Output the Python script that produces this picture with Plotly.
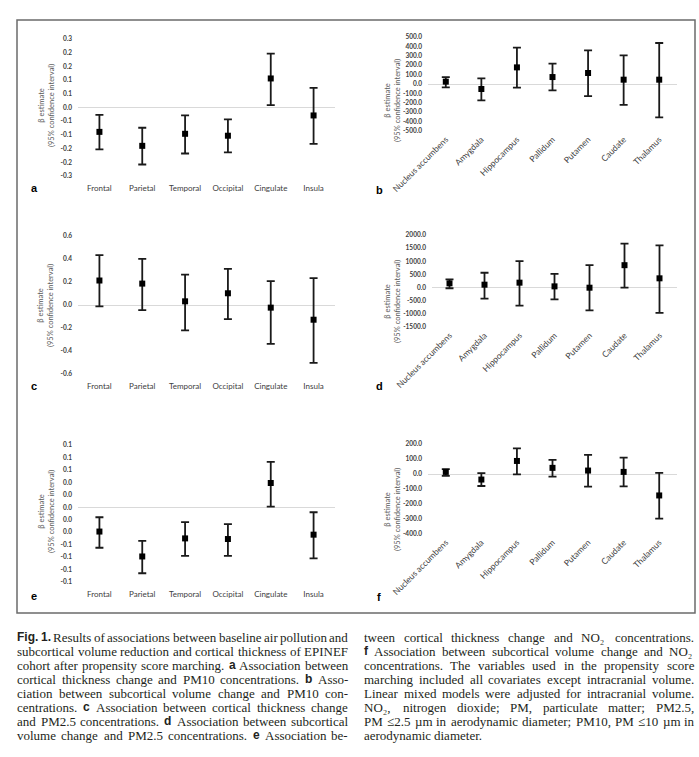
import plotly.graph_objects as go

W, H = 699, 757

# ---------------- data ----------------
cortical_regions = ["Frontal", "Parietal", "Temporal", "Occipital", "Cingulate", "Insula"]
subcortical_regions = ["Nucleus accumbens", "Amygdala", "Hippocampus", "Pallidum",
                       "Putamen", "Caudate", "Thalamus"]

# a: cortical thickness change vs PM10
a_est = [-0.089, -0.140, -0.096, -0.103, 0.106, -0.029]
a_lo = [-0.153, -0.208, -0.168, -0.164, 0.009, -0.133]
a_hi = [-0.027, -0.074, -0.029, -0.043, 0.197, 0.072]
a_tickvals = [0.25, 0.20, 0.15, 0.10, 0.05, 0.0, -0.05, -0.10, -0.15, -0.20, -0.25]
a_ticktext = ["0.3", "0.2", "0.2", "0.1", "0.1", "0.0", "-0.1", "-0.1", "-0.2", "-0.2", "-0.3"]

# b: subcortical volume change vs PM10
b_est = [25, -53, 177, 74, 117, 46, 46]
b_lo = [-35, -174, -39, -67, -128, -223, -355]
b_hi = [74, 60, 387, 216, 358, 305, 436]
b_tickvals = [500, 400, 300, 200, 100, 0, -100, -200, -300, -400, -500]
b_ticktext = ["500.0", "400.0", "300.0", "200.0", "100.0", "0.0", "-100.0", "-200.0",
              "-300.0", "-400.0", "-500.0"]

# c: cortical thickness change vs PM2.5
c_est = [0.213, 0.186, 0.032, 0.102, -0.023, -0.128]
c_lo = [-0.012, -0.044, -0.221, -0.122, -0.338, -0.504]
c_hi = [0.434, 0.402, 0.265, 0.314, 0.207, 0.233]
c_tickvals = [0.6, 0.4, 0.2, 0.0, -0.2, -0.4, -0.6]
c_ticktext = ["0.6", "0.4", "0.2", "0.0", "-0.2", "-0.4", "-0.6"]

# d: subcortical volume change vs PM2.5
d_est = [161, 110, 187, 46, -5, 852, 352]
d_lo = [-25, -422, -690, -448, -870, -5, -960]
d_hi = [313, 563, 1005, 518, 852, 1670, 1605]
d_tickvals = [2000, 1500, 1000, 500, 0, -500, -1000, -1500]
d_ticktext = ["2000.0", "1500.0", "1000.0", "500.0", "0.0", "-500.0", "-1000.0", "-1500.0"]

# e: cortical thickness change vs NO2
e_est = [-0.039, -0.079, -0.050, -0.051, 0.039, -0.044]
e_lo = [-0.065, -0.106, -0.078, -0.078, 0.001, -0.082]
e_hi = [-0.016, -0.054, -0.024, -0.027, 0.073, -0.008]
e_tickvals = [0.10, 0.08, 0.06, 0.04, 0.02, 0.0, -0.02, -0.04, -0.06, -0.08, -0.10, -0.12]
e_ticktext = ["0.1", "0.1", "0.1", "0.0", "0.0", "0.0", "0.0", "0.0", "-0.1", "-0.1", "-0.1", "-0.1"]

# f: subcortical volume change vs NO2
f_est = [14, -37, 87, 41, 23, 14, -143]
f_lo = [-12, -80, -3, -17, -84, -82, -297]
f_hi = [32, 6, 171, 94, 127, 109, 8]
f_tickvals = [200, 100, 0, -100, -200, -300, -400]
f_ticktext = ["200.0", "100.0", "0.0", "-100.0", "-200.0", "-300.0", "-400.0"]

panel_letters = ["a", "b", "c", "d", "e", "f"]
y_title = "β estimate<br>(95% confidence interval)"

caption_left = [
    "§Fig. §1. Results of associations between baseline air pollution and",
    "subcortical volume reduction and cortical thickness of EPINEF",
    "cohort after propensity score marching. §a Association between",
    "cortical thickness change and PM10 concentrations. §b Asso-",
    "ciation between subcortical volume change and PM10 con-",
    "centrations. §c Association between cortical thickness change",
    "and PM2.5 concentrations. §d Association between subcortical",
    "volume change and PM2.5 concentrations. §e Association be-",
]
caption_right = [
    "tween cortical thickness change and NO₂ concentrations.",
    "§f Association between subcortical volume change and NO₂",
    "concentrations. The variables used in the propensity score",
    "marching included all covariates except intracranial volume.",
    "Linear mixed models were adjusted for intracranial volume.",
    "NO₂, nitrogen dioxide; PM, particulate matter; PM2.5,",
    "PM ≤2.5 µm in aerodynamic diameter; PM10, PM ≤10 µm in",
    "aerodynamic diameter.",
]

# ---------------- layout geometry (pixels) ----------------
panels = [
    dict(cats=cortical_regions, est=a_est, lo=a_lo, hi=a_hi, tv=a_tickvals, tt=a_ticktext,
         x=(78, 335), y=(39, 176), rot=False, title=(46, 106), letter=(34, 188)),
    dict(cats=subcortical_regions, est=b_est, lo=b_lo, hi=b_hi, tv=b_tickvals, tt=b_ticktext,
         x=(428, 677), y=(37, 131), rot=True, title=(392, 101), letter=(379, 190)),
    dict(cats=cortical_regions, est=c_est, lo=c_lo, hi=c_hi, tv=c_tickvals, tt=c_ticktext,
         x=(78, 335), y=(236, 374), rot=False, title=(46, 306), letter=(34, 386)),
    dict(cats=subcortical_regions, est=d_est, lo=d_lo, hi=d_hi, tv=d_tickvals, tt=d_ticktext,
         x=(432, 677), y=(235, 327), rot=True, title=(392, 302), letter=(379, 386)),
    dict(cats=cortical_regions, est=e_est, lo=e_lo, hi=e_hi, tv=e_tickvals, tt=e_ticktext,
         x=(78, 335), y=(445, 582), rot=False, title=(46, 512), letter=(34, 596)),
    dict(cats=subcortical_regions, est=f_est, lo=f_lo, hi=f_hi, tv=f_tickvals, tt=f_ticktext,
         x=(428, 677), y=(444, 534), rot=True, title=(392, 510), letter=(379, 597)),
]


def px(x):
    return x / W


def py(y):
    return 1 - y / H


fig = go.Figure()
annotations = []
layout_axes = {}

for i, p in enumerate(panels, start=1):
    sfx = "" if i == 1 else str(i)
    plus = [h - e for h, e in zip(p["hi"], p["est"])]
    minus = [e - l for e, l in zip(p["est"], p["lo"])]
    fig.add_trace(go.Scatter(
        x=p["cats"], y=p["est"], mode="markers",
        marker=dict(symbol="square", size=6, color="#000000"),
        error_y=dict(type="data", symmetric=False, array=plus, arrayminus=minus,
                     color="#1a1a1a", thickness=1.8, width=4),
        xaxis="x" + sfx, yaxis="y" + sfx, showlegend=False, cliponaxis=False,
    ))
    n = len(p["cats"])
    vmax, vmin = max(p["tv"]), min(p["tv"])
    eps = (vmax - vmin) * 1e-4
    layout_axes["xaxis" + sfx] = dict(
        domain=[px(p["x"][0]), px(p["x"][1])], anchor="y" + sfx, automargin=False,
        type="category", categoryorder="array", categoryarray=p["cats"],
        range=[-0.5, n - 0.5], showgrid=False, zeroline=False, showline=False,
        ticks="", tickangle=-45 if p["rot"] else 0,
        ticklabelstandoff=1 if p["rot"] else 6,
        tickfont=dict(family="Lato", size=8.5 if p["rot"] else 8, color="#404040"),
        fixedrange=True,
    )
    layout_axes["yaxis" + sfx] = dict(
        domain=[py(p["y"][1]), py(p["y"][0])], anchor="x" + sfx, automargin=False,
        range=[vmin - eps, vmax + eps], tickvals=p["tv"], ticktext=p["tt"],
        showgrid=False, zeroline=True, zerolinecolor="#d9d9d9", zerolinewidth=1,
        showline=False, ticks="", ticklabelstandoff=5,
        tickfont=dict(family="Lato", size=6.5, color="#404040", weight="bold"),
        fixedrange=True,
    )
    annotations.append(dict(
        text=y_title, x=px(p["title"][0]), y=py(p["title"][1]), xref="paper", yref="paper",
        showarrow=False, textangle=-90, xanchor="center", yanchor="middle",
        font=dict(family="Lato", size=7.5, color="#595959"),
    ))
    annotations.append(dict(
        text="<b>%s</b>" % panel_letters[i - 1], x=px(p["letter"][0]), y=py(p["letter"][1]),
        xref="paper", yref="paper", showarrow=False, xanchor="center", yanchor="middle",
        font=dict(family="Liberation Sans", size=11, color="#000000"),
    ))

# ---------------- caption (justified, Times metrics) ----------------
serif_w = dict(zip("abcdefghijklmnopqrstuvwxyz",
                   [444, 500, 444, 500, 444, 333, 500, 500, 278, 278, 500, 278, 778, 500, 500,
                    500, 500, 333, 389, 278, 500, 500, 722, 500, 500, 444]))
serif_w.update(dict(zip("ABCDEFGHIJKLMNOPQRSTUVWXYZ",
                        [722, 667, 667, 722, 611, 556, 722, 722, 333, 389, 722, 611, 889, 722,
                         722, 556, 722, 667, 556, 611, 722, 722, 944, 722, 722, 611])))
serif_w.update({d: 500 for d in "0123456789"})
serif_w.update({".": 250, ",": 250, ";": 278, ":": 278, "-": 333, "(": 333, ")": 333,
                "≤": 549, "µ": 500, "%": 833, "₂": 480})
sans_bold_w = {"F": 611, "i": 278, "g": 611, ".": 278, "1": 556, "a": 556, "b": 611,
               "c": 556, "d": 611, "e": 556, "f": 333}

CAP_SIZE = 13
BOLD_SIZE = 12


def word_width(w):
    if w.startswith("§"):
        return sum(sans_bold_w.get(ch, 556) for ch in w[1:]) * BOLD_SIZE / 1000
    return sum(serif_w.get(ch, 500) for ch in w) * CAP_SIZE / 1000


def render_word(w):
    if w.startswith("§"):
        return "<b>%s</b>" % w[1:], dict(family="Liberation Sans", size=BOLD_SIZE, color="#231f20")
    return w, dict(family="Liberation Serif", size=CAP_SIZE, color="#231f20")


def add_column(lines, x0, x1, y0, dy, last_is_ragged):
    for k, line in enumerate(lines):
        words = line.split(" ")
        widths = [word_width(w) for w in words]
        last = last_is_ragged and k == len(lines) - 1
        if len(words) > 1 and not last:
            gap = (x1 - x0 - sum(widths)) / (len(words) - 1)
        else:
            gap = 250 * CAP_SIZE / 1000
        xpos = x0
        for w, wd in zip(words, widths):
            txt, fnt = render_word(w)
            annotations.append(dict(
                text=txt, x=px(xpos), y=py(y0 + k * dy), xref="paper", yref="paper",
                showarrow=False, xanchor="left", yanchor="middle", borderpad=0, borderwidth=0,
                font=fnt,
            ))
            xpos += wd + gap


add_column(caption_left, 17, 348, 637, 14, False)
add_column(caption_right, 364, 694, 637, 14, True)

fig.update_layout(
    width=W, height=H, margin=dict(l=0, r=0, t=0, b=0, autoexpand=False),
    paper_bgcolor="white", plot_bgcolor="white",
    annotations=annotations,
    shapes=[dict(type="rect", xref="paper", yref="paper", x0=px(17), x1=px(695),
                 y0=py(613), y1=py(20), line=dict(color="#6b6b6b", width=1.5),
                 fillcolor="rgba(0,0,0,0)", layer="below")],
    **layout_axes,
)

fig.write_html(
    "out.html",
    config={"displayModeBar": False},
    post_script="document.body.style.margin='0';document.body.style.padding='0';"
                "document.body.style.overflow='hidden';",
)
